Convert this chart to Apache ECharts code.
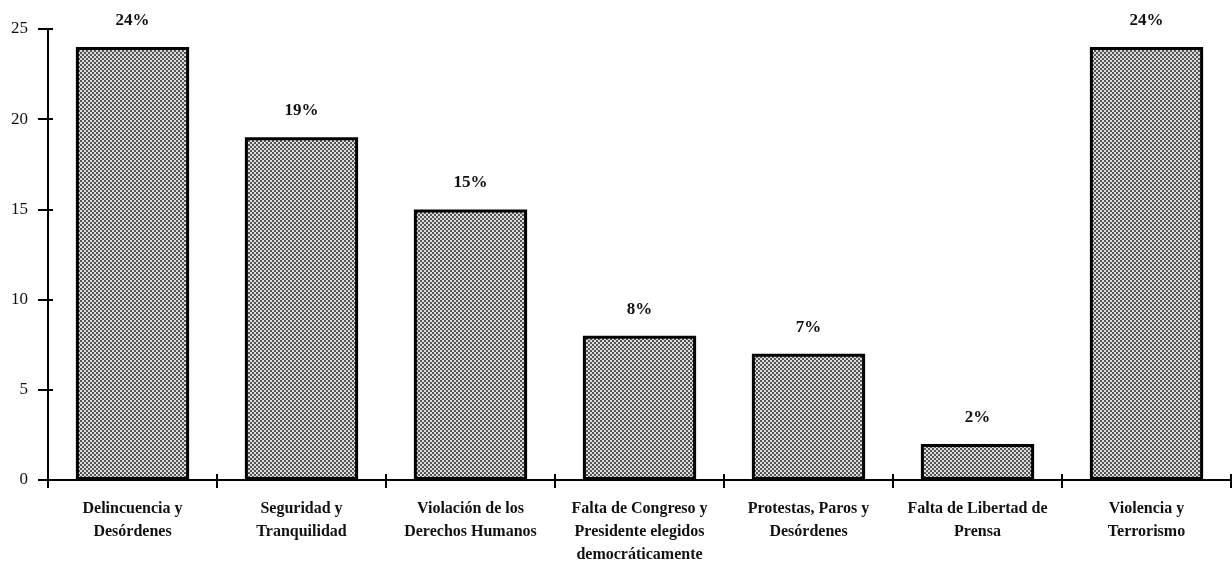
<!DOCTYPE html>
<html>
<head>
<meta charset="utf-8">
<script src="https://cdn.jsdelivr.net/npm/echarts@6/dist/echarts.min.js"></script>
<style>
  html, body { margin: 0; padding: 0; background: #fff; }
  #chartDiv { width: 1232px; height: 566px; }
</style>
</head>
<body>
<div id="chartDiv"></div>
<script>
var categories = [
    'Delincuencia y\nDesórdenes',
    'Seguridad y\nTranquilidad',
    'Violación de los\nDerechos Humanos',
    'Falta de Congreso y\nPresidente elegidos\ndemocráticamente',
    'Protestas, Paros y\nDesórdenes',
    'Falta de Libertad de\nPrensa',
    'Violencia y\nTerrorismo'
];
var values = [24, 19, 15, 8, 7, 2, 24];
var yTicks = [0, 5, 10, 15, 20, 25];

// trama punteada de las barras
function makePattern() {
    var c = document.createElement('canvas');
    c.width = 4;
    c.height = 4;
    var ctx = c.getContext('2d');
    ctx.fillStyle = '#dcdcdc';
    ctx.fillRect(0, 0, 4, 4);
    ctx.fillStyle = '#555';
    ctx.fillRect(0, 0, 2, 2);
    ctx.fillRect(2, 2, 2, 2);
    return c;
}

var serif = 'Liberation Serif';
var tickStyle = { color: '#000', width: 2 };
var myChart = echarts.init(document.getElementById('chartDiv'));
var option = {
    animation: false,
    grid: {
        left: 48,
        right: 1,
        top: 29,
        bottom: 86,
        containLabel: false
    },
    xAxis: [{
        type: 'category',
        data: categories,
        axisLine: { lineStyle: { color: '#000', width: 2 } },
        axisTick: { show: true, length: 8, lineStyle: tickStyle },
        axisLabel: {
            interval: 0,
            margin: 17,
            fontFamily: serif,
            fontSize: 16,
            fontWeight: 'bold',
            lineHeight: 23,
            color: '#111'
        }
    }, {
        // marcas que cruzan el eje hacia arriba
        type: 'category',
        data: categories,
        position: 'bottom',
        axisLine: { show: false },
        axisTick: { show: true, inside: true, length: 6, lineStyle: tickStyle },
        axisLabel: { show: false }
    }],
    yAxis: [{
        type: 'value',
        min: yTicks[0],
        max: yTicks[yTicks.length - 1],
        interval: 5,
        splitLine: { show: false },
        axisLine: { show: true, lineStyle: { color: '#000', width: 2 } },
        axisTick: { show: true, length: 10, lineStyle: tickStyle },
        axisLabel: {
            margin: 20,
            fontFamily: serif,
            fontSize: 17,
            color: '#111'
        }
    }, {
        type: 'value',
        position: 'left',
        min: yTicks[0],
        max: yTicks[yTicks.length - 1],
        interval: 5,
        splitLine: { show: false },
        axisLine: { show: false },
        axisTick: { show: true, inside: true, length: 5, lineStyle: tickStyle },
        axisLabel: { show: false }
    }],
    series: [{
        type: 'bar',
        data: values,
        barWidth: '67%',
        itemStyle: {
            color: { image: makePattern(), repeat: 'repeat' },
            borderColor: '#000',
            borderWidth: 3
        },
        label: {
            show: true,
            position: 'top',
            distance: 18,
            formatter: '{c}%',
            fontFamily: serif,
            fontSize: 17,
            fontWeight: 'bold',
            color: '#111'
        }
    }]
};
myChart.setOption(option);
</script>
</body>
</html>
